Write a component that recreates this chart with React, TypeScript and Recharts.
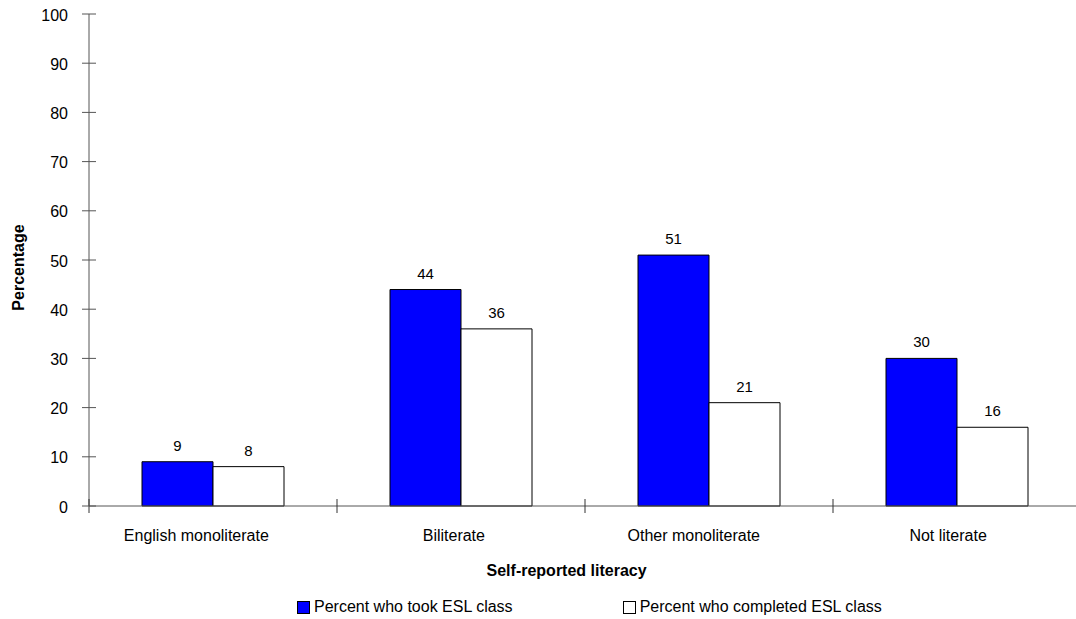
import { BarChart, Bar, XAxis, YAxis, LabelList } from "recharts";

const categories = ["English monoliterate", "Biliterate", "Other monoliterate", "Not literate"];
const tookClass = [9, 44, 51, 30];
const completedClass = [8, 36, 21, 16];
const yTicks = [0, 10, 20, 30, 40, 50, 60, 70, 80, 90, 100];

const series = [
  { key: "took", name: "Percent who took ESL class", fill: "#0000ff" },
  { key: "completed", name: "Percent who completed ESL class", fill: "#ffffff" },
];

const data = categories.map((c, i) => ({
  category: c,
  took: tookClass[i],
  completed: completedClass[i],
}));

const AXIS = "#555";
const FONT = "'Liberation Sans', Arial, sans-serif";

// centred labels sit a little left of centre, by a share of their width
let measureCtx: CanvasRenderingContext2D | null = null;
function textWidth(text: string, weight = "normal") {
  if (!measureCtx) measureCtx = document.createElement("canvas").getContext("2d");
  if (!measureCtx) return 0;
  measureCtx.font = `${weight} 16px ${FONT}`;
  return measureCtx.measureText(text).width;
}
const LEFT_SHIFT = 0.115;

// y ticks cross the axis line, label sits to the left
function YTick({ x, y, payload }: any) {
  return (
    <g>
      <line x1={x + 14} x2={x + 28} y1={y} y2={y} stroke={AXIS} />
      <text x={x} y={y} dy={6.5} textAnchor="end" fontSize={16} fill="#000">
        {payload.value}
      </text>
    </g>
  );
}

// category label in the middle, crossing tick marks on the band edges
function XTick({ x, y, payload, index, visibleTicksCount }: any) {
  const half = payload.offset ?? 0;
  const axisY = y - 7;
  const last = index === visibleTicksCount - 1;
  const dx = -LEFT_SHIFT * textWidth(String(payload.value));
  return (
    <g>
      <line x1={x - half} x2={x - half} y1={axisY - 7} y2={axisY + 7} stroke="#333" />
      {last && <line x1={x + half} x2={x + half} y1={axisY - 7} y2={axisY + 7} stroke="#333" />}
      <text x={x + dx} y={axisY + 35} textAnchor="middle" fontSize={16} fill="#000">
        {payload.value}
      </text>
    </g>
  );
}

const xTitle = "Self-reported literacy";

export default function App() {
  return (
    <div
      style={{
        position: "absolute",
        left: 0,
        top: 0,
        width: 1076,
        height: 619,
        overflow: "hidden",
        background: "#fff",
        fontFamily: FONT,
      }}
    >
      <BarChart
        width={1090}
        height={619}
        data={data}
        margin={{ top: 14, right: 9, left: 29, bottom: 0 }}
        barGap={0}
      >
        <XAxis
          dataKey="category"
          height={113}
          axisLine={{ stroke: AXIS }}
          tickLine={false}
          tickSize={7}
          tickMargin={0}
          tick={<XTick />}
          interval={0}
          label={({ viewBox }: any) => (
            <text
              x={viewBox.x + viewBox.width / 2 - LEFT_SHIFT * textWidth(xTitle, "bold")}
              y={viewBox.y + 70}
              textAnchor="middle"
              fontSize={16}
              fontWeight="bold"
              fill="#000"
            >
              {xTitle}
            </text>
          )}
        />
        <YAxis
          width={60}
          domain={[0, 100]}
          ticks={yTicks}
          interval={0}
          axisLine={{ stroke: AXIS }}
          tickLine={false}
          tickSize={7}
          tickMargin={14}
          tick={<YTick />}
          label={({ viewBox }: any) => {
            const cx = viewBox.x - 5.5;
            const cy = viewBox.y + viewBox.height / 2 + 7.5;
            return (
              <text
                x={cx}
                y={cy}
                transform={`rotate(-90 ${cx} ${cy})`}
                textAnchor="middle"
                fontSize={16}
                fontWeight="bold"
                fill="#000"
              >
                Percentage
              </text>
            );
          }}
        />
        {series.map((s) => (
          <Bar
            key={s.key}
            dataKey={s.key}
            name={s.name}
            fill={s.fill}
            stroke="#000"
            strokeWidth={1}
            barSize={71}
            isAnimationActive={false}
          >
            <LabelList dataKey={s.key} position="top" offset={11} fill="#000" fontSize={15} />
          </Bar>
        ))}
      </BarChart>
      <div
        style={{
          position: "absolute",
          left: 297,
          top: 598,
          height: 18,
          display: "flex",
          alignItems: "center",
          gap: 110,
          fontSize: 16,
          lineHeight: "18px",
          color: "#000",
        }}
      >
        {series.map((s) => (
          <div key={s.key} style={{ display: "flex", alignItems: "center", gap: 4 }}>
            <span
              style={{
                display: "inline-block",
                width: 11,
                height: 11,
                background: s.fill,
                border: "1px solid #000",
              }}
            />
            <span>{s.name}</span>
          </div>
        ))}
      </div>
    </div>
  );
}
